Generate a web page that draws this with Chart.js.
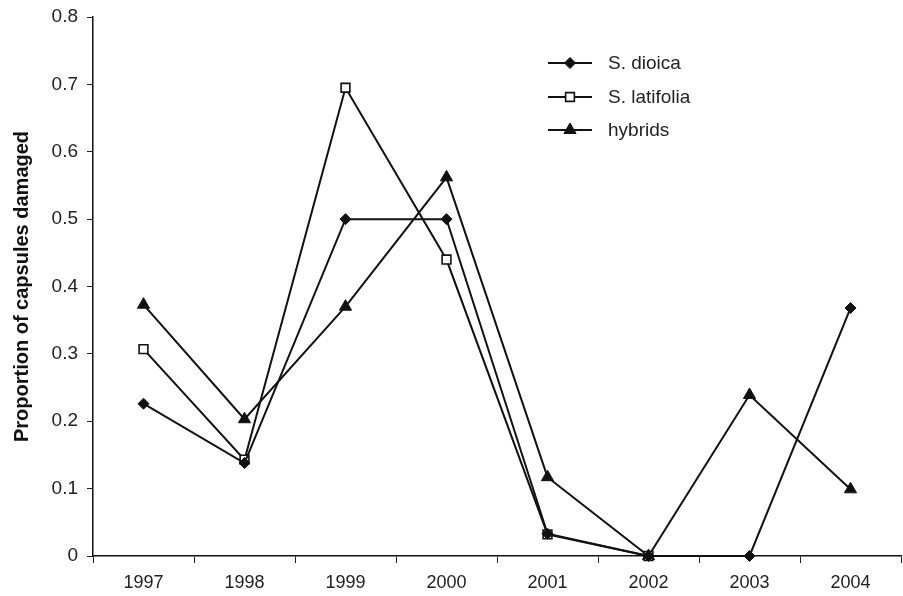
<!DOCTYPE html>
<html>
<head>
<meta charset="utf-8">
<script src="https://cdn.jsdelivr.net/npm/chart.js@4"></script>
<style>
  html, body { margin: 0; padding: 0; background: #fff; overflow: hidden; }
  #wrap { width: 903px; height: 596px; }
  canvas { display: block; }
</style>
</head>
<body>
<div id="wrap"><canvas id="chart" width="903" height="596"></canvas></div>
<script>
const years = ['1997', '1998', '1999', '2000', '2001', '2002', '2003', '2004'];
const dioica = [0.226, 0.138, 0.5, 0.5, 0.033, 0, 0, 0.368];
const latifolia = [0.307, 0.143, 0.695, 0.44, 0.032, 0, null, null];
const hybrids = [0.373, 0.203, 0.37, 0.562, 0.117, 0, 0.239, 0.099];
const yTicks = [0, 0.1, 0.2, 0.3, 0.4, 0.5, 0.6, 0.7, 0.8];

const fontFamily = '"Liberation Sans", Arial, Helvetica, sans-serif';

// legend drawn by hand: short line with the marker in the middle
const lineLegend = {
    id: 'lineLegend',
    afterDraw(chart) {
        const c = chart.ctx;
        const rows = [63, 97, 130];
        chart.data.datasets.forEach((ds, i) => {
            const y = rows[i];
            c.save();
            c.strokeStyle = '#111';
            c.lineWidth = 2;
            c.beginPath();
            c.moveTo(548, y);
            c.lineTo(592, y);
            c.stroke();
            c.fillStyle = ds.pointBackgroundColor;
            c.strokeStyle = ds.pointBorderColor;
            c.lineWidth = ds.pointBorderWidth;
            Chart.helpers.drawPoint(c, {
                pointStyle: ds.pointStyle,
                radius: ds.pointRadius,
                borderWidth: ds.pointBorderWidth,
                rotation: 0
            }, 570, y);
            c.fillStyle = '#222';
            c.font = '19px ' + fontFamily;
            c.textBaseline = 'middle';
            c.fillText(ds.label, 608, y + 1);
            c.restore();
        });
    }
};

const ctx = document.getElementById('chart').getContext('2d');
new Chart(ctx, {
    type: 'line',
    data: {
        labels: years,
        datasets: [
            {
                label: 'S. dioica',
                data: dioica,
                borderColor: '#111',
                borderWidth: 2,
                pointStyle: 'rectRot',
                pointRadius: 5.5,
                pointBackgroundColor: '#111',
                pointBorderColor: '#111',
                pointBorderWidth: 1,
                tension: 0,
                clip: false
            },
            {
                label: 'S. latifolia',
                data: latifolia,
                borderColor: '#111',
                borderWidth: 2,
                pointStyle: 'rect',
                pointRadius: 6.2,
                pointBackgroundColor: '#fff',
                pointBorderColor: '#111',
                pointBorderWidth: 1.6,
                tension: 0,
                spanGaps: false,
                clip: false
            },
            {
                label: 'hybrids',
                data: hybrids,
                borderColor: '#111',
                borderWidth: 2,
                pointStyle: 'triangle',
                pointRadius: 7,
                pointBackgroundColor: '#111',
                pointBorderColor: '#111',
                pointBorderWidth: 1,
                tension: 0,
                clip: false
            }
        ]
    },
    options: {
        responsive: false,
        animation: false,
        layout: { autoPadding: false, padding: { top: 17, right: 2, left: 0, bottom: 0 } },
        plugins: {
            legend: { display: false },
            tooltip: { enabled: false }
        },
        scales: {
            x: {
                type: 'category',
                offset: true,
                grid: {
                    offset: true,
                    drawOnChartArea: false,
                    tickLength: 7,
                    color: '#222'
                },
                border: { color: '#111', width: 1.5 },
                ticks: {
                    color: '#222',
                    padding: 9,
                    font: { size: 18, family: fontFamily },
                    maxRotation: 0
                },
                afterFit(scale) {
                    scale.height = 40;
                    scale.paddingLeft = 0;
                    scale.paddingRight = 0;
                }
            },
            y: {
                min: 0,
                max: 0.8,
                afterBuildTicks(scale) {
                    scale.ticks = yTicks.map(v => ({ value: v }));
                },
                grid: {
                    drawOnChartArea: false,
                    tickLength: 6,
                    color: '#222'
                },
                border: { color: '#111', width: 1.5 },
                ticks: {
                    color: '#222',
                    padding: 9,
                    font: { size: 19, family: fontFamily },
                    callback: v => String(Math.round(v * 10) / 10)
                },
                title: {
                    display: true,
                    text: 'Proportion of capsules damaged',
                    color: '#111',
                    font: { size: 20, weight: 'bold', family: fontFamily },
                    padding: { top: 10, bottom: 0 }
                },
                afterFit(scale) {
                    scale.width = 93;
                    scale.paddingTop = 0;
                    scale.paddingBottom = 0;
                }
            }
        }
    },
    plugins: [lineLegend]
});
</script>
</body>
</html>
